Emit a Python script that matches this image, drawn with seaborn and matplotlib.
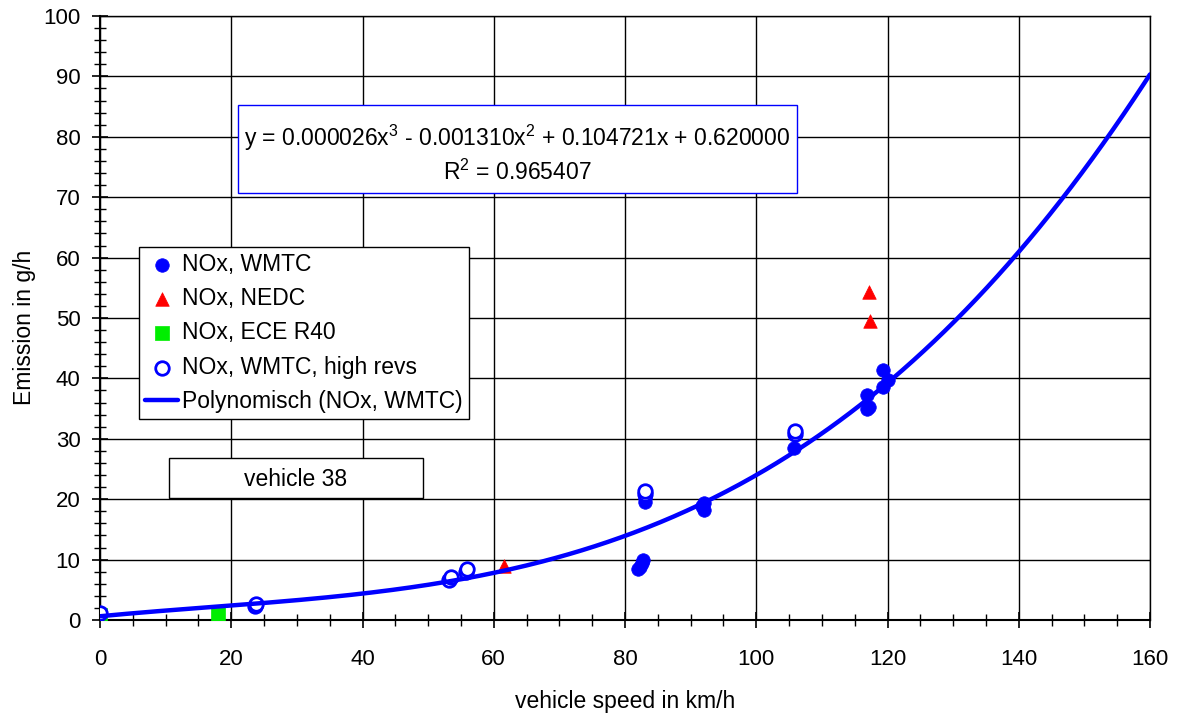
import numpy as np
import pandas as pd
import matplotlib
matplotlib.use("Agg")
import matplotlib.pyplot as plt
from matplotlib.patches import Rectangle
from matplotlib.ticker import MultipleLocator
import seaborn as sns

# NOx emission measurements (vehicle speed in km/h, emission in g/h)
wmtc_speed = [82.0, 82.3, 82.6, 82.7, 83.0, 83.0, 91.8, 92.0, 92.0, 105.8,
              116.8, 117.2, 116.9, 119.3, 120.0, 119.3]
wmtc_nox = [8.5, 8.8, 9.5, 9.9, 19.6, 20.2, 18.9, 18.2, 19.4, 28.4,
            35.0, 35.3, 37.2, 38.5, 39.8, 41.4]

nedc_speed = [18.1, 61.6, 117.2, 117.4]
nedc_nox = [0.3, 8.9, 54.3, 49.5]

ece_speed = [0.0, 18.0]
ece_nox = [0.8, 1.0]

revs_speed = [0.0, 23.6, 23.7, 53.2, 53.5, 55.8, 55.9, 83.0, 83.0, 105.9, 105.9]
revs_nox = [1.1, 2.3, 2.6, 6.6, 7.1, 7.9, 8.4, 20.9, 21.4, 30.8, 31.3]

# cubic trend line coefficients (highest order first)
poly_coef = [0.000026, -0.001310, 0.104721, 0.620000]
r_squared = 0.965407

x_ticks = [0, 20, 40, 60, 80, 100, 120, 140, 160]
y_ticks = [0, 10, 20, 30, 40, 50, 60, 70, 80, 90, 100]

sns.set_theme(style="white")
plt.rcParams["font.family"] = ["Liberation Sans", "DejaVu Sans"]
plt.rcParams["text.color"] = "black"
plt.rcParams["axes.labelcolor"] = "black"
plt.rcParams["mathtext.fontset"] = "custom"
plt.rcParams["mathtext.rm"] = "Liberation Sans"
plt.rcParams["mathtext.default"] = "regular"

FS = 16.5

fig = plt.figure(figsize=(11.8, 7.14), dpi=100)
ax = fig.add_axes([100 / 1180, 94 / 714, 1050 / 1180, 604 / 714])

blue = "#0000ff"
ms = 95

sns.scatterplot(x=wmtc_speed, y=wmtc_nox, ax=ax, color=blue, marker="o", s=ms,
                edgecolor=blue, linewidth=0.5, label="NOx, WMTC", zorder=3)
sns.scatterplot(x=nedc_speed, y=nedc_nox, ax=ax, color="#ff0000", marker="^", s=ms,
                edgecolor="#ff0000", linewidth=0.5, label="NOx, NEDC", zorder=3)
sns.scatterplot(x=ece_speed, y=ece_nox, ax=ax, color="#00ee00", marker="s", s=ms,
                edgecolor="#00ee00", linewidth=0.5, label="NOx, ECE R40", zorder=3)
sns.scatterplot(x=revs_speed, y=revs_nox, ax=ax, color="white", marker="o", s=ms,
                edgecolor=blue, linewidth=2, label="NOx, WMTC, high revs", zorder=4)

curve_x = np.linspace(0, 160, 400)
curve_y = np.polyval(poly_coef, curve_x)
sns.lineplot(x=curve_x, y=curve_y, ax=ax, color=blue, linewidth=3.2,
             label="Polynomisch (NOx, WMTC)", zorder=5)

ax.set_xlim(0, 160)
ax.set_ylim(0, 100)
ax.set_xticks(x_ticks)
ax.set_yticks(y_ticks)
ax.xaxis.set_minor_locator(MultipleLocator(5))
ax.yaxis.set_minor_locator(MultipleLocator(2))
ax.grid(True, which="major", color="black", linewidth=1.0)
ax.set_axisbelow(True)
for side in ["left", "bottom"]:
    ax.spines[side].set_color("black")
    ax.spines[side].set_linewidth(1.5)
for side in ["top", "right"]:
    ax.spines[side].set_color("black")
    ax.spines[side].set_linewidth(1.0)
ax.tick_params(which="major", direction="inout", length=12, width=1.2,
               labelsize=16, colors="black", bottom=True, left=True)
ax.tick_params(axis="x", which="major", pad=15)
ax.tick_params(axis="y", which="major", pad=8)
ax.tick_params(which="minor", direction="inout", length=9, width=1.0,
               colors="black", bottom=True, left=True)
ax.set_xlabel("vehicle speed in km/h", fontsize=FS, labelpad=14, color="black")
ax.set_ylabel("Emission in g/h", fontsize=FS, labelpad=5, color="black")
ax.yaxis.label.set_y(0.485)

leg = ax.legend(loc="upper left", bbox_to_anchor=(0.0371, 0.6175), fontsize=FS,
                frameon=True, fancybox=False, edgecolor="black", framealpha=1,
                borderpad=0.26, labelspacing=0.49, handlelength=1.45,
                handletextpad=0.17, borderaxespad=0)
leg.get_frame().set_linewidth(1.0)
leg.set_zorder(10)
for t in leg.get_texts():
    t.set_color("black")

# trend line equation box
ax.add_patch(Rectangle((0.1314, 0.707), 0.5324, 0.1456, transform=ax.transAxes,
                       facecolor="white", edgecolor=blue, linewidth=1.0, zorder=8))
c = poly_coef
eq = (f"y = {c[0]:.6f}x$^3$ - {abs(c[1]):.6f}x$^2$ + {c[2]:.6f}x + {c[3]:.6f}")
ax.text(0.397, 0.798, eq, transform=ax.transAxes, ha="center", va="center",
        fontsize=FS, zorder=9, color="black")
ax.text(0.397, 0.741, f"R$^2$ = {r_squared:.6f}", transform=ax.transAxes,
        ha="center", va="center", fontsize=FS, zorder=9, color="black")

# vehicle label box
ax.add_patch(Rectangle((0.0657, 0.202), 0.2419, 0.066, transform=ax.transAxes,
                       facecolor="white", edgecolor="black", linewidth=1.0, zorder=8))
ax.text(0.1867, 0.233, "vehicle 38", transform=ax.transAxes, ha="center",
        va="center", fontsize=FS, zorder=9, color="black")

fig.savefig("out.png", dpi=100)
